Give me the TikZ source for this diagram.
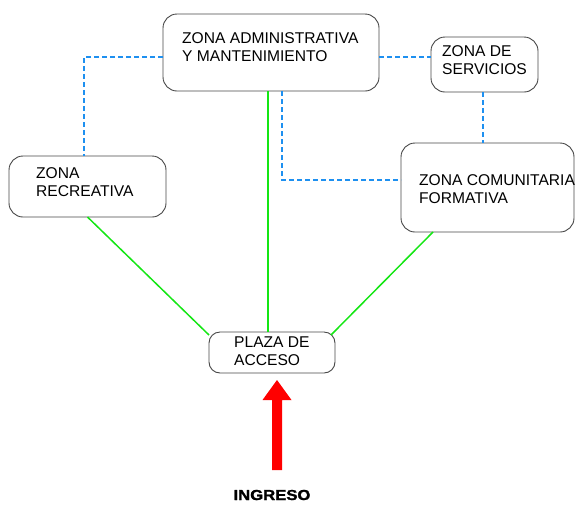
\documentclass[tikz,border=0pt]{standalone}
\usepackage{fontspec}
\usepackage{graphicx}
\setmainfont{Liberation Sans}
\newfontfamily\ingfont{Liberation Sans}[BoldFeatures={FakeBold=1.6}]
\usetikzlibrary{calc}
\definecolor{zgreen}{RGB}{20,230,20}
\definecolor{zblue}{RGB}{30,144,240}
\definecolor{zborder}{RGB}{70,70,70}
\begin{document}
\begin{tikzpicture}[x=1pt,y=-1pt,
  zone/.style={draw=zborder,line width=0.9pt,rounded corners=14pt,inner sep=0pt,outer sep=0pt},
  ztext/.style={anchor=base west,align=left,inner sep=0pt,font=\fontsize{15.6}{18}\selectfont},
  gline/.style={draw=zgreen,line width=1.5pt},
  bline/.style={draw=zblue,line width=1.1pt,dash pattern=on 5pt off 3pt}]
\useasboundingbox (0,0) rectangle (575,504);
% boxes
\node[zone,minimum width=216pt,minimum height=77pt] (adm) at (271,52.5) {};
\node[zone,minimum width=157pt,minimum height=61pt] (rec) at (87.5,186.5) {};
\node[zone,minimum width=173pt,minimum height=89pt] (com) at (487.5,187.5) {};
\node[zone,minimum width=107pt,minimum height=55pt] (ser) at (484.5,64.5) {};
\node[zone,rounded corners=11pt,minimum width=126pt,minimum height=41pt] (pla) at (272,352.5) {};
% texts (anchor = baseline of last line)
\node[ztext] (tadm) at (182,61) {ZONA ADMINISTRATIVA\\Y MANTENIMIENTO};
\node[ztext] (trec) at (36,196) {ZONA\\RECREATIVA};
\node[ztext] (tcom) at (419,203.5) {ZONA COMUNITARIA\\FORMATIVA};
\node[ztext] (tser) at (442,74.5) {ZONA DE\\SERVICIOS};
\node[ztext] (tpla) at (234,365) {PLAZA DE\\ACCESO};
% helper coordinates
\coordinate (xg1) at (268,0);
\coordinate (xg2) at (433,0);
\coordinate (xb1) at (84,0);
\coordinate (xb2) at (483,0);
\coordinate (xb3) at (282,0);
\coordinate (yb1) at (0,57);
\coordinate (yb2) at (0,180);
% green connectors
\draw[gline] (rec.south) -- ($(pla.north west)+(0,3)$);
\draw[gline] (adm.south -| xg1) -- (pla.north -| xg1);
\draw[gline] (com.south -| xg2) -- ($(pla.north east)+(-4,3)$);
% blue dashed connectors
\draw[bline] (adm.west |- yb1) -| (rec.north -| xb1);
\draw[bline] (adm.east |- yb1) -- (ser.west |- yb1);
\draw[bline] (ser.south -| xb2) -- (com.north -| xb2);
\draw[bline] (adm.south -| xb3) |- (com.west |- yb2);
% entrance arrow
\coordinate (ain) at (277,470);
\fill[red] ($(ain)+(-5,0)$) -- ($(ain)+(5,0)$) -- ($(ain)+(5,-70)$) -- ($(ain)+(14.5,-70)$)
  -- ($(ain)+(0,-90)$) -- ($(ain)+(-14.5,-70)$) -- ($(ain)+(-5,-70)$) -- cycle;
\node[inner sep=0pt,font=\fontsize{14.5}{16}\ingfont\bfseries] (ing) at (272,495) {\scalebox{1.15}[1]{INGRESO}};
\end{tikzpicture}
\end{document}
